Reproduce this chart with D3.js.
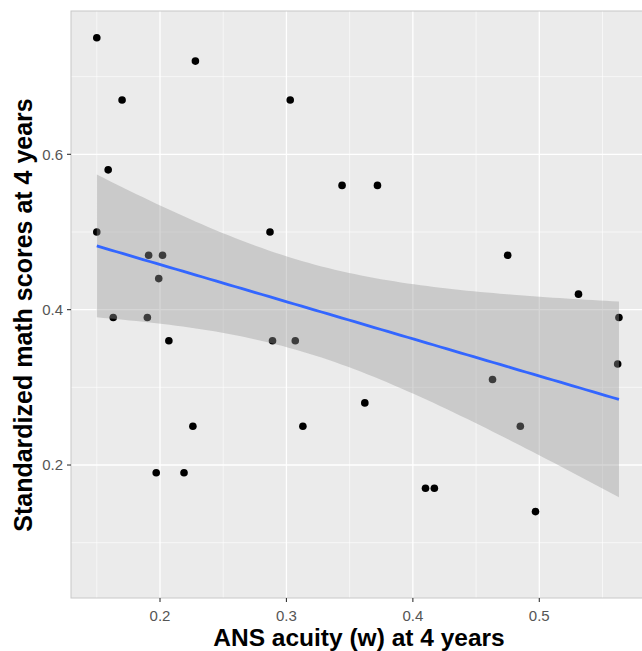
<!DOCTYPE html>
<html>
<head>
<meta charset="utf-8">
<script src="https://cdn.jsdelivr.net/npm/d3@7"></script>
<style>
  body { margin: 0; background: #fff; }
  text { font-family: "Liberation Sans", Arial, Helvetica, sans-serif; }
</style>
</head>
<body>
<svg id="chart" width="642" height="651"></svg>
<script>
// ANS acuity (w) at 4 years
const acuity = [0.150, 0.228, 0.170, 0.303, 0.159, 0.150, 0.287, 0.191, 0.202, 0.199,
  0.163, 0.190, 0.344, 0.372, 0.475, 0.531, 0.563, 0.207, 0.289, 0.307,
  0.226, 0.313, 0.197, 0.219, 0.562, 0.463, 0.362, 0.485, 0.410, 0.417, 0.497];
// standardized math scores at 4 years
const mathScore = [0.75, 0.72, 0.67, 0.67, 0.58, 0.50, 0.50, 0.47, 0.47, 0.44,
  0.39, 0.39, 0.56, 0.56, 0.47, 0.42, 0.39, 0.36, 0.36, 0.36,
  0.25, 0.25, 0.19, 0.19, 0.33, 0.31, 0.28, 0.25, 0.17, 0.17, 0.14];
const xTicks = [0.2, 0.3, 0.4, 0.5];
const yTicks = [0.2, 0.4, 0.6];
const xMinor = [0.15, 0.25, 0.35, 0.45, 0.55];
const yMinor = [0.1, 0.3, 0.5, 0.7];

const svg = d3.select('#chart');
const pLeft = 71, pRight = 646, pTop = 11, pBottom = 598;

const x = d3.scaleLinear().domain([0.1296, 0.5844]).range([pLeft, pRight]);
const y = d3.scaleLinear().domain([0.0288, 0.7845]).range([pBottom, pTop]);

// panel
svg.append('rect').attr('x', pLeft).attr('y', pTop)
  .attr('width', pRight - pLeft).attr('height', pBottom - pTop).attr('fill', '#ebebeb');

const grid = svg.append('g');
grid.selectAll('.vmin').data(xMinor).enter().append('line')
  .attr('x1', d => x(d)).attr('x2', d => x(d)).attr('y1', pTop).attr('y2', pBottom)
  .attr('stroke', '#fff').attr('stroke-width', 0.6);
grid.selectAll('.hmin').data(yMinor).enter().append('line')
  .attr('y1', d => y(d)).attr('y2', d => y(d)).attr('x1', pLeft).attr('x2', pRight)
  .attr('stroke', '#fff').attr('stroke-width', 0.6);
grid.selectAll('.vmaj').data(xTicks).enter().append('line')
  .attr('x1', d => x(d)).attr('x2', d => x(d)).attr('y1', pTop).attr('y2', pBottom)
  .attr('stroke', '#fff').attr('stroke-width', 1.3);
grid.selectAll('.hmaj').data(yTicks).enter().append('line')
  .attr('y1', d => y(d)).attr('y2', d => y(d)).attr('x1', pLeft).attr('x2', pRight)
  .attr('stroke', '#fff').attr('stroke-width', 1.3);

// points
const pts = acuity.map((v, i) => [v, mathScore[i]]);
svg.append('g').selectAll('circle').data(pts).enter().append('circle')
  .attr('cx', d => x(d[0])).attr('cy', d => y(d[1])).attr('r', 3.8).attr('fill', '#000');

// linear fit with 95% confidence band
const n = pts.length;
const mx = d3.mean(acuity), my = d3.mean(mathScore);
const sxx = d3.sum(acuity, v => (v - mx) ** 2);
const sxy = d3.sum(pts, d => (d[0] - mx) * (d[1] - my));
const slope = sxy / sxx, icpt = my - slope * mx;
const s = Math.sqrt(d3.sum(pts, d => (d[1] - icpt - slope * d[0]) ** 2) / (n - 2));
const tq = 2.045; // t(0.975, df = 29)
const band = d3.range(80).map(i => {
  const xv = d3.min(acuity) + i * (d3.max(acuity) - d3.min(acuity)) / 79;
  const fit = icpt + slope * xv;
  const se = s * Math.sqrt(1 / n + (xv - mx) ** 2 / sxx);
  return { x: xv, fit: fit, lo: fit - tq * se, hi: fit + tq * se };
});

svg.append('path').datum(band)
  .attr('d', d3.area().x(d => x(d.x)).y0(d => y(d.lo)).y1(d => y(d.hi)))
  .attr('fill', '#999').attr('fill-opacity', 0.4);
svg.append('path').datum(band)
  .attr('d', d3.line().x(d => x(d.x)).y(d => y(d.fit)))
  .attr('fill', 'none').attr('stroke', '#3366ff').attr('stroke-width', 2.8);

svg.append('rect').attr('x', pLeft).attr('y', pTop)
  .attr('width', pRight - pLeft).attr('height', pBottom - pTop)
  .attr('fill', 'none').attr('stroke', '#c8c8c8').attr('stroke-width', 1);

// axes
const ax = svg.append('g');
ax.selectAll('.xt').data(xTicks).enter().append('line')
  .attr('x1', d => x(d)).attr('x2', d => x(d)).attr('y1', pBottom).attr('y2', pBottom + 4)
  .attr('stroke', '#333').attr('stroke-width', 1.1);
ax.selectAll('.xl').data(xTicks).enter().append('text')
  .attr('x', d => x(d)).attr('y', 621).attr('text-anchor', 'middle')
  .attr('font-size', 15).attr('fill', '#555').text(d => d3.format('.1f')(d));
ax.selectAll('.yt').data(yTicks).enter().append('line')
  .attr('y1', d => y(d)).attr('y2', d => y(d)).attr('x1', pLeft - 4).attr('x2', pLeft)
  .attr('stroke', '#333').attr('stroke-width', 1.1);
ax.selectAll('.yl').data(yTicks).enter().append('text')
  .attr('x', 63).attr('y', d => y(d)).attr('dy', '0.36em').attr('text-anchor', 'end')
  .attr('font-size', 15).attr('fill', '#555').text(d => d3.format('.1f')(d));

svg.append('text').attr('x', 359).attr('y', 646).attr('text-anchor', 'middle')
  .attr('font-size', 24.5).attr('font-weight', 'bold').attr('fill', '#000')
  .text('ANS acuity (w) at 4 years');
svg.append('text').attr('transform', 'translate(32,' + 315 + ') rotate(-90)')
  .attr('text-anchor', 'middle')
  .attr('font-size', 25).attr('font-weight', 'bold').attr('fill', '#000')
  .text('Standardized math scores at 4 years');
</script>
</body>
</html>
